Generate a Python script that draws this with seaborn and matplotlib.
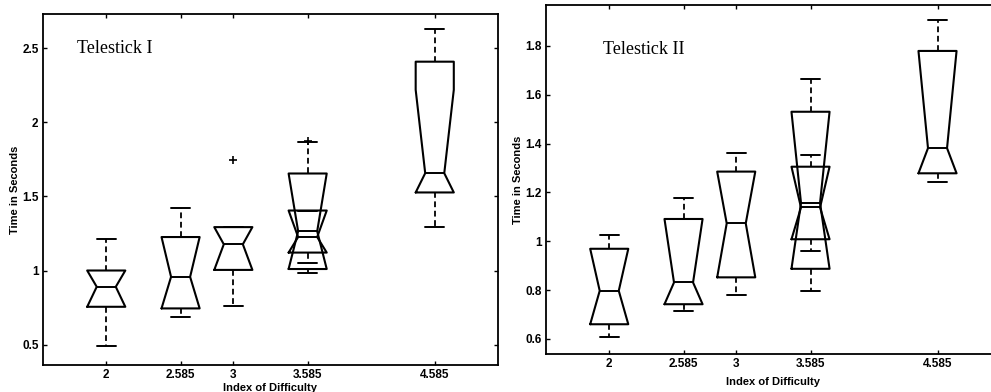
import matplotlib
matplotlib.use("Agg")
import matplotlib.pyplot as plt
import seaborn as sns

# ---------------- data ----------------
positions = [2, 2.585, 3, 3.585, 3.585, 4.585]
tick_values = [2, 2.585, 3, 3.585, 4.585]
tick_labels = ["2", "2.585", "3", "3.585", "4.585"]

# Telestick I
t1_whislo = [0.487, 0.688, 0.758, 0.980, 1.054, 1.296]
t1_q1     = [0.755, 0.744, 1.004, 1.010, 1.121, 1.527]
t1_med    = [0.890, 0.957, 1.177, 1.265, 1.226, 1.657]
t1_q3     = [1.000, 1.226, 1.293, 1.655, 1.405, 2.410]
t1_whishi = [1.210, 1.424, 1.293, 1.865, 1.405, 2.630]
t1_cilo   = [0.755, 0.744, 1.004, 1.010, 1.121, 1.527]
t1_cihi   = [1.000, 1.226, 1.293, 1.655, 1.405, 2.220]
t1_fliers = [[], [], [1.749], [], [1.872], []]
t1_yticks = [0.5, 1, 1.5, 2, 2.5]
t1_ylabels = ["0.5", "1", "1.5", "2", "2.5"]

# Telestick II
t2_whislo = [0.606, 0.713, 0.781, 0.797, 0.961, 1.243]
t2_q1     = [0.660, 0.742, 0.852, 0.887, 1.008, 1.278]
t2_med    = [0.797, 0.831, 1.073, 1.157, 1.138, 1.381]
t2_q3     = [0.969, 1.091, 1.285, 1.530, 1.305, 1.779]
t2_whishi = [1.027, 1.177, 1.360, 1.663, 1.353, 1.904]
t2_cilo   = [0.660, 0.742, 0.852, 0.887, 1.008, 1.278]
t2_cihi   = [0.969, 1.091, 1.285, 1.530, 1.305, 1.779]
t2_fliers = [[], [], [], [], [], []]
t2_yticks = [0.6, 0.8, 1.0, 1.2, 1.4, 1.6, 1.8]
t2_ylabels = ["0.6", "0.8", "1", "1.2", "1.4", "1.6", "1.8"]

titles = ["Telestick I", "Telestick II"]

# ---------------- style ----------------
sns.set_theme(style="ticks")
plt.rcParams["font.family"] = ["Liberation Sans", "DejaVu Sans"]

fig = plt.figure(figsize=(9.91, 3.92), dpi=100)
fig.patch.set_facecolor("white")


def make_stats(whislo, q1, med, q3, whishi, cilo, cihi, fliers):
    out = []
    for i in range(len(med)):
        out.append(dict(whislo=whislo[i], q1=q1[i], med=med[i], q3=q3[i],
                        whishi=whishi[i], cilo=cilo[i], cihi=cihi[i],
                        fliers=fliers[i]))
    return out


def draw(ax, stats, ylim, yticks, ylabels, title, title_xy, xlab_y):
    ax.set_facecolor("white")
    ax.bxp(stats, positions=positions, widths=0.3, shownotches=True,
           showfliers=True, manage_ticks=False,
           boxprops=dict(color="black", linewidth=1.5),
           whiskerprops=dict(color="black", linewidth=1.3, linestyle=(0, (3.2, 2))),
           capprops=dict(color="black", linewidth=1.4),
           medianprops=dict(color="black", linewidth=1.4),
           flierprops=dict(marker="+", markeredgecolor="black", markersize=6,
                           markeredgewidth=1.2, linestyle="none"))
    ax.set_xlim(1.5, 5.085)
    ax.set_ylim(*ylim)
    ax.set_xticks(tick_values)
    ax.set_xticklabels(tick_labels)
    ax.set_yticks(yticks)
    ax.set_yticklabels(ylabels)
    ax.tick_params(direction="in", length=3, width=1, top=True, right=True,
                   labelsize=8.5, colors="black", pad=3)
    for lab in ax.get_xticklabels() + ax.get_yticklabels():
        lab.set_fontweight("bold")
    for sp in ax.spines.values():
        sp.set_visible(True)
        sp.set_color("black")
        sp.set_linewidth(1.3)
    ax.grid(False)
    ax.set_ylabel("Time in Seconds", fontsize=8, fontweight="bold", color="black")
    ax.set_xlabel("Index of Difficulty", fontsize=8, fontweight="bold", color="black")
    ax.yaxis.set_label_coords(-0.050, 0.5)
    ax.xaxis.set_label_coords(0.5, xlab_y)
    ax.text(title_xy[0], title_xy[1], title, family=["Liberation Serif", "DejaVu Serif"],
            fontsize=13, ha="left", va="center", color="black")


ax1 = fig.add_axes([0.0431, 0.0689, 0.4597, 0.8954])
draw(ax1, make_stats(t1_whislo, t1_q1, t1_med, t1_q3, t1_whishi, t1_cilo, t1_cihi, t1_fliers),
     (0.362, 2.732), t1_yticks, t1_ylabels, titles[0], (1.77, 2.5), -0.052)

ax2 = fig.add_axes([0.5507, 0.0962, 0.4594, 0.8910])
draw(ax2, make_stats(t2_whislo, t2_q1, t2_med, t2_q3, t2_whishi, t2_cilo, t2_cihi, t2_fliers),
     (0.537, 1.967), t2_yticks, t2_ylabels, titles[1], (1.95, 1.785), -0.066)

fig.savefig("out.png", dpi=100, facecolor="white")
